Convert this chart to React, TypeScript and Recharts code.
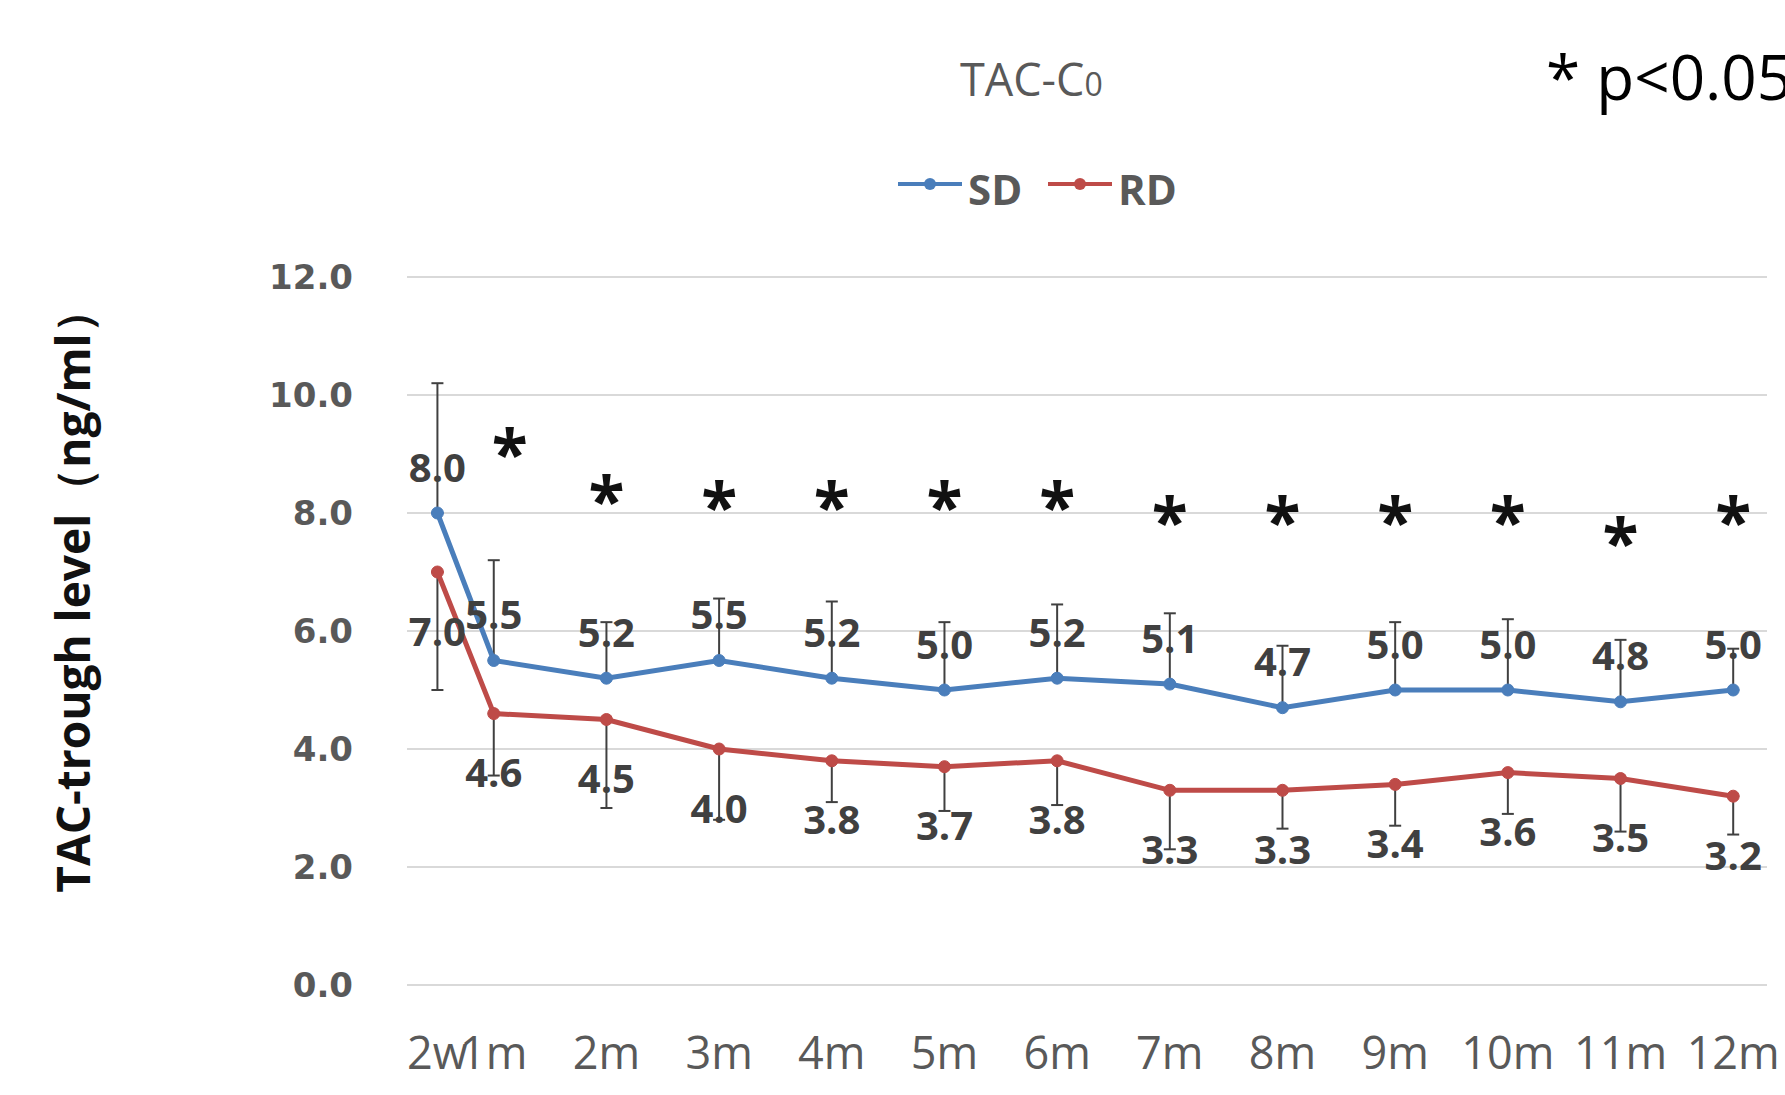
import React from 'react'
import { ComposedChart, Line, XAxis, YAxis, CartesianGrid, ErrorBar, LabelList } from 'recharts'

// time points (months) and their tick labels
const categories = ['2w', '1m', '2m', '3m', '4m', '5m', '6m', '7m', '8m', '9m', '10m', '11m', '12m']
const months = [0.5, 1, 2, 3, 4, 5, 6, 7, 8, 9, 10, 11, 12]

// TAC-C0 means
const sdValues = [8.0, 5.5, 5.2, 5.5, 5.2, 5.0, 5.2, 5.1, 4.7, 5.0, 5.0, 4.8, 5.0]
const rdValues = [7.0, 4.6, 4.5, 4.0, 3.8, 3.7, 3.8, 3.3, 3.3, 3.4, 3.6, 3.5, 3.2]

// error bars: SD only drawn upward, RD only downward
const sdErrors = [2.2, 1.7, 0.95, 1.05, 1.3, 1.15, 1.25, 1.2, 1.05, 1.15, 1.2, 1.05, 0.7]
const rdErrors = [2.0, 1.05, 1.5, 1.2, 0.7, 0.75, 0.75, 1.0, 0.65, 0.7, 0.7, 0.9, 0.65]

// height of the significance asterisks (p<0.05), none at 2w
const starLevels = [null, 9.2, 8.4, 8.3, 8.3, 8.3, 8.3, 8.05, 8.05, 8.05, 8.05, 7.7, 8.05]

const yTicks = [0, 2, 4, 6, 8, 10, 12]

const BLUE = '#4A7EBB'
const RED = '#BE4B48'
const FONT = "'Open Sans', sans-serif"

const data = months.map((t, i) => ({
  t,
  sd: sdValues[i],
  rd: rdValues[i],
  sdErr: [0, sdErrors[i]],
  rdErr: [rdErrors[i], 0],
  star: starLevels[i],
}))

const tickLabel = (v: number) => categories[months.indexOf(v)] ?? ''

const makeLabel = (dy: number) => (props: any) => {
  const { x, y, value } = props
  if (value == null) return null
  return (
    <text
      x={x}
      y={y + dy}
      textAnchor="middle"
      dominantBaseline="central"
      fontFamily={FONT}
      fontWeight="bold"
      fontSize={40}
      fill="#404040"
    >
      {Number(value).toFixed(1)}
    </text>
  )
}

const renderStar = (props: any) => {
  const { cx, cy, index } = props
  if (cy == null || isNaN(cy)) return <g key={`s${index}`} />
  // the first asterisk sits a little right of its point in the original
  const dx = index === 1 ? 16 : 0
  return (
    <text
      key={`s${index}`}
      x={cx + dx}
      y={cy + 36}
      textAnchor="middle"
      fontFamily={FONT}
      fontWeight="bold"
      fontSize={66}
      fill="#111"
    >
      *
    </text>
  )
}

export default function App() {
  return (
    <div style={{ position: 'absolute', left: 0, top: 0, width: 1785, height: 1095, background: '#fff' }}>
      <ComposedChart
        width={1785}
        height={1095}
        data={data}
        margin={{ top: 277, right: 18, bottom: 10, left: 307 }}
      >
        <CartesianGrid vertical={false} stroke="#d9d9d9" strokeWidth={2} />
        <XAxis
          dataKey="t"
          type="number"
          domain={[0.23, 12.3]}
          ticks={months}
          interval={0}
          tickFormatter={tickLabel}
          axisLine={false}
          tickLine={false}
          height={100}
          tickMargin={46}
          tick={{ fill: '#595959', fontSize: 45, fontFamily: FONT }}
        />
        <YAxis
          domain={[0, 12]}
          ticks={yTicks}
          tickFormatter={(v: number) => v.toFixed(1)}
          axisLine={false}
          tickLine={false}
          width={100}
          tickMargin={48}
          tick={{ fill: '#595959', fontSize: 34, fontFamily: "'DejaVu Sans', sans-serif", fontWeight: 'bold' }}
        />
        <Line
          dataKey="sd"
          stroke={BLUE}
          strokeWidth={5}
          dot={{ r: 6, fill: BLUE, stroke: BLUE, strokeWidth: 1 }}
          activeDot={false}
          isAnimationActive={false}
        >
          <ErrorBar dataKey="sdErr" direction="y" width={6} stroke="#404040" strokeWidth={2} />
          <LabelList dataKey="sd" content={makeLabel(-47)} />
        </Line>
        <Line
          dataKey="rd"
          stroke={RED}
          strokeWidth={5}
          dot={{ r: 6, fill: RED, stroke: RED, strokeWidth: 1 }}
          activeDot={false}
          isAnimationActive={false}
        >
          <ErrorBar dataKey="rdErr" direction="y" width={6} stroke="#404040" strokeWidth={2} />
          <LabelList dataKey="rd" content={makeLabel(58)} />
        </Line>
        <Line
          dataKey="star"
          stroke="none"
          dot={renderStar}
          activeDot={false}
          isAnimationActive={false}
        />
      </ComposedChart>

      <svg
        width={1785}
        height={1095}
        style={{ position: 'absolute', left: 0, top: 0, pointerEvents: 'none' }}
      >
        <text x={960} y={96} fontFamily={FONT} fontSize={45} fill="#595959">
          TAC-C<tspan fontSize={32}>0</tspan>
        </text>
        <text x={1546} y={100} fontFamily={FONT} fontSize={62} fill="#000">
          * p&lt;0.05
        </text>

        {/* legend */}
        <line x1={898} y1={184} x2={962} y2={184} stroke={BLUE} strokeWidth={4} />
        <circle cx={930} cy={184} r={6} fill={BLUE} />
        <text x={968} y={205} fontFamily={FONT} fontWeight="bold" fontSize={42} fill="#595959">SD</text>
        <line x1={1048} y1={184} x2={1112} y2={184} stroke={RED} strokeWidth={4} />
        <circle cx={1080} cy={184} r={6} fill={RED} />
        <text x={1118} y={205} fontFamily={FONT} fontWeight="bold" fontSize={42} fill="#595959">RD</text>

        <text
          x={72}
          y={590}
          transform="rotate(-90, 72, 590)"
          textAnchor="middle"
          dominantBaseline="central"
          fontFamily={FONT}
          fontWeight="bold"
          fontSize={46}
          fill="#111"
        >
          TAC-trough level（ng/ml）
        </text>
      </svg>
    </div>
  )
}
